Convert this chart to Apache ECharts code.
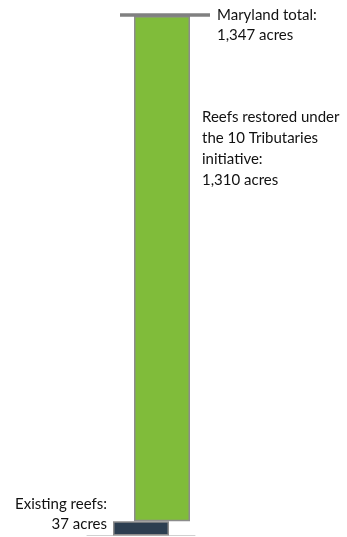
<!DOCTYPE html>
<html>
<head>
<meta charset="utf-8">
<script src="https://cdn.jsdelivr.net/npm/echarts@6/dist/echarts.min.js"></script>
<style>
html,body{margin:0;padding:0;background:#fff;}
#chart{width:347px;height:537px;}
</style>
</head>
<body>
<div id="chart"></div>
<script>
// ---- data ----
const categories = ['Reefs'];
const existingAcres = [37];
const restoredAcres = [1310];
const totalAcres = [1347];
const existingLabel = ['Existing reefs:', '37 acres'];
const restoredLabel = ['Reefs restored under', 'the 10 Tributaries', 'initiative:', '1,310 acres'];
const totalLabel = ['Maryland total:', '1,347 acres'];

// ---- styles ----
const FONT = 'Lato';
const FS = 15;
const textColor = '#111111';

const chart = echarts.init(document.getElementById('chart'), null, {renderer: 'canvas'});
const yMax = totalAcres[0];

const option = {
  animation: false,
  backgroundColor: '#fff',
  grid: [
    {left: 87, right: 152, top: 16, bottom: 1.5},
    {left: 108, right: 131, top: 16, bottom: 1.5}
  ],
  xAxis: [
    {type: 'category', gridIndex: 0, data: categories,
     axisLine: {show: true, lineStyle: {color: '#d0d0d0', width: 1}},
     axisTick: {show: false}, axisLabel: {show: false}, splitLine: {show: false}},
    {type: 'category', gridIndex: 1, data: categories, show: false}
  ],
  yAxis: [
    {type: 'value', gridIndex: 0, min: 0, max: yMax, show: false, splitLine: {show: false}},
    {type: 'value', gridIndex: 1, min: 0, max: yMax, show: false, splitLine: {show: false}}
  ],
  series: [
    {
      name: 'Existing reefs', type: 'bar', xAxisIndex: 0, yAxisIndex: 0,
      data: existingAcres, barWidth: 56,
      itemStyle: {color: '#2c3e50', borderColor: '#8c8c8c', borderWidth: 1.5},
      label: {
        show: true, position: [-6, -27], align: 'right', verticalAlign: 'top',
        formatter: existingLabel.join('\n'),
        fontFamily: FONT, fontSize: FS, lineHeight: 20, color: textColor
      },
      z: 3
    },
    {
      name: 'base', type: 'bar', xAxisIndex: 1, yAxisIndex: 1, stack: 'r',
      data: existingAcres, barWidth: 56,
      itemStyle: {color: 'transparent'}, silent: true
    },
    {
      name: 'Reefs restored', type: 'bar', xAxisIndex: 1, yAxisIndex: 1, stack: 'r',
      data: restoredAcres, barWidth: 56,
      itemStyle: {color: '#80bc3a', borderColor: '#8c8c8c', borderWidth: 1.5},
      label: {
        show: true, position: [68, 91], align: 'left', verticalAlign: 'top',
        formatter: restoredLabel.join('\n'),
        fontFamily: FONT, fontSize: FS, lineHeight: 21, color: textColor
      },
      z: 2
    },
    {
      name: 'Maryland total', type: 'custom', xAxisIndex: 1, yAxisIndex: 1,
      data: [[0, totalAcres[0]]],
      renderItem: function (params, api) {
        const p = api.coord([api.value(0), api.value(1)]);
        const y = p[1] - 1;
        return {
          type: 'group',
          children: [
            {type: 'line', shape: {x1: p[0] - 42, y1: y, x2: p[0] + 48, y2: y},
             style: {stroke: '#808080', lineWidth: 3.5}},
            {type: 'text', style: {
              text: totalLabel.join('\n'), x: p[0] + 55, y: y - 10,
              fontFamily: FONT, fontSize: FS, lineHeight: 20, fill: textColor,
              align: 'left', verticalAlign: 'top'}}
          ]
        };
      },
      z: 4
    }
  ]
};
chart.setOption(option);
</script>
</body>
</html>
